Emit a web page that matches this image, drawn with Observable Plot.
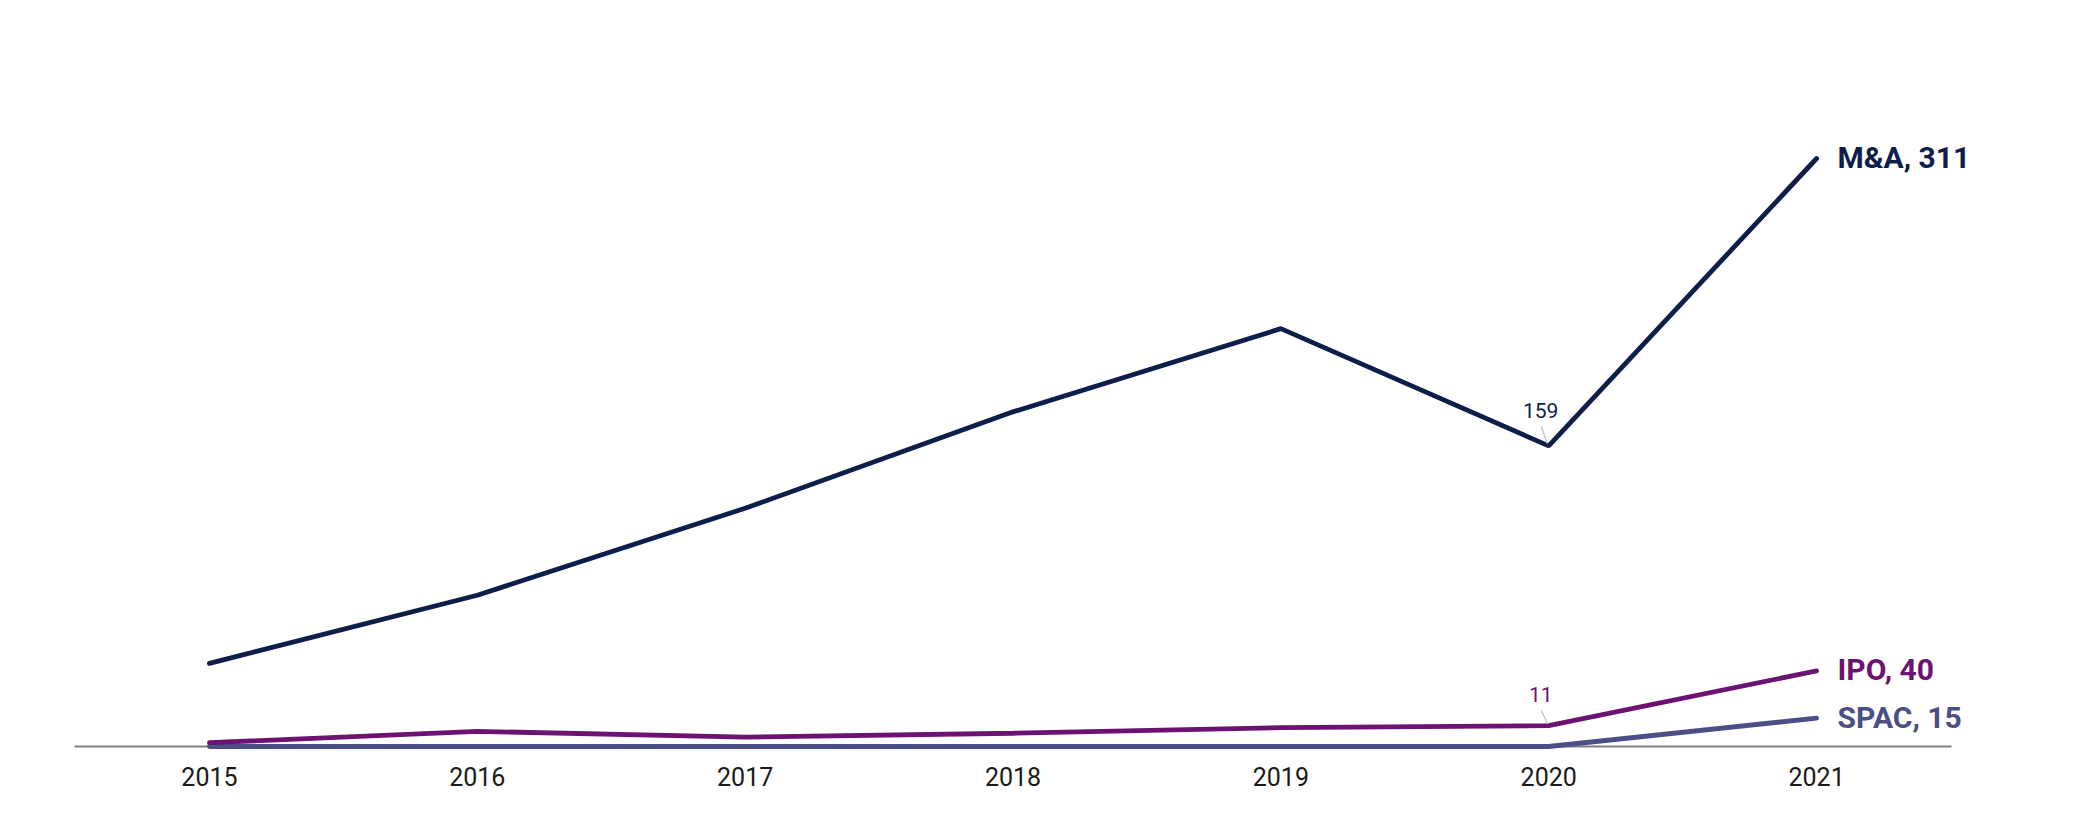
<!DOCTYPE html>
<html>
<head>
<meta charset="utf-8">
<script src="https://cdn.jsdelivr.net/npm/d3@7"></script>
<script src="https://cdn.jsdelivr.net/npm/@observablehq/plot@0.6"></script>
<style>
  html, body { margin: 0; padding: 0; background: #fff; }
  #chart { width: 2077px; height: 833px; }
  svg { font-family: Roboto, "Noto Sans", sans-serif; }
</style>
</head>
<body>
<div id="chart"></div>
<script>
const years = ["2015", "2016", "2017", "2018", "2019", "2020", "2021"];
const seriesNames = ["M&A", "IPO", "SPAC"];
const maValues = [44, 80, 126, 177, 221, 159, 311];
const ipoValues = [2, 8, 5, 7, 10, 11, 40];
const spacValues = [0, 0, 0, 0, 0, 0, 15];
const seriesColors = ["#0e1e4b", "#6c1272", "#4b4f86"];
const annotatedYear = "2020";

const valuesBySeries = [maValues, ipoValues, spacValues];
const rows = [];
seriesNames.forEach((s, i) => {
  years.forEach((y, j) => rows.push({series: s, year: y, value: valuesBySeries[i][j]}));
});
const colorOf = Object.fromEntries(seriesNames.map((s, i) => [s, seriesColors[i]]));
const drawOrder = ["SPAC", "IPO", "M&A"];
const lastRows = rows.filter(d => d.year === years[years.length - 1]);
const annRows = rows.filter(d => d.year === annotatedYear && d.series !== "SPAC");
// annotation styling per series (offsets in px)
const annStyle = {"M&A": {dy: -35, len: 17}, "IPO": {dy: -30, len: 13}};

const chart = Plot.plot({
  width: 2077,
  height: 833,
  marginLeft: 75,
  marginRight: 127,
  marginTop: 158,
  marginBottom: 87,
  x: {type: "point", domain: years, padding: 0.5, round: false, label: null},
  y: {domain: [0, 311], axis: null},
  style: {fontFamily: "Roboto, 'Noto Sans', sans-serif", background: "#fff"},
  marks: [
    Plot.axisX({tickSize: 0, tickPadding: 22, fontSize: 25, color: "#1a1a1a", label: null}),
    Plot.frame({anchor: "bottom", stroke: "#7f7f7f", strokeWidth: 2}),
    ...drawOrder.map(s => Plot.line(rows.filter(d => d.series === s), {
      x: "year", y: "value", stroke: colorOf[s], strokeWidth: 4.8,
      strokeLinejoin: "miter", strokeLinecap: "round"
    })),
    ...annRows.map(d => Plot.text([d], {
      x: "year", y: "value", text: r => String(r.value),
      dx: -8, dy: annStyle[d.series].dy, fontSize: 21, fill: colorOf[d.series]
    })),
    Plot.text(lastRows, {
      x: "year", y: "value", text: d => `${d.series}, ${d.value}`,
      dx: 21, textAnchor: "start", fontSize: 30, fontWeight: "bold",
      fill: d => colorOf[d.series]
    })
  ]
});

// leader lines for the 2020 annotations, placed from scale positions
const xs = chart.scale("x"), ysc = chart.scale("y");
const svg = d3.select(chart);
annRows.forEach(d => {
  const px = xs.apply(d.year), py = ysc.apply(d.value);
  const L = annStyle[d.series].len;
  svg.append("line")
    .attr("x1", px - 7).attr("y1", py - L - 2)
    .attr("x2", px - 1).attr("y2", py - 2)
    .attr("stroke", "#c8c8c8").attr("stroke-width", 1.5);
});
document.getElementById("chart").appendChild(chart);
</script>
</body>
</html>
